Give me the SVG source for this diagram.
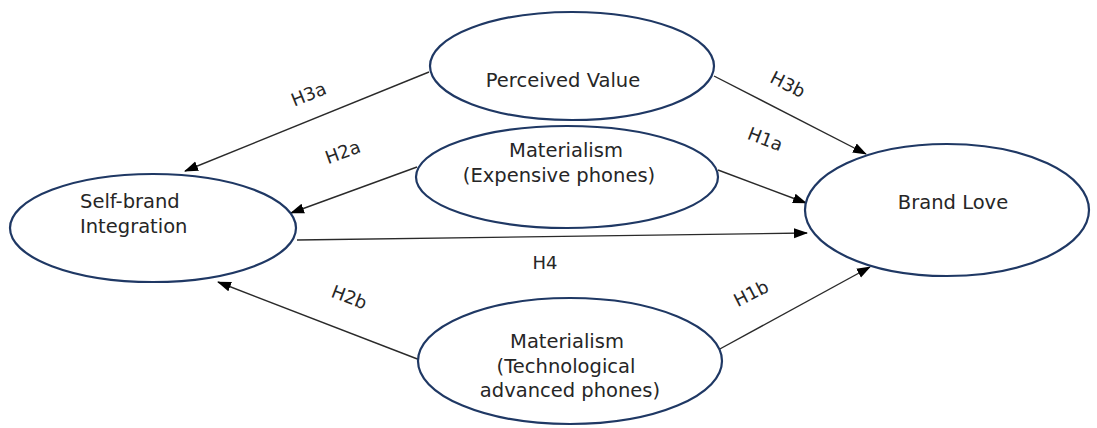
<svg xmlns="http://www.w3.org/2000/svg" width="1097" height="428" viewBox="0 0 1097 428">
<defs>
<style>
.node ellipse{fill:#fff;stroke:#1f3864;stroke-width:2.2}
.t{font-family:"DejaVu Sans","Liberation Sans",sans-serif;font-size:19.5px;fill:#262626}
.lbl{font-family:"DejaVu Sans","Liberation Sans",sans-serif;font-size:18px;fill:#262626;text-anchor:middle}
.c{stroke:#2a2a2a;stroke-width:1.4;fill:none;marker-end:url(#ah)}
</style>
<marker id="ah" markerUnits="userSpaceOnUse" markerWidth="14" markerHeight="12" refX="13" refY="5" orient="auto" viewBox="0 0 14 10">
<path d="M0,0 L14,5 L0,10 Z" fill="#000"/>
</marker>
</defs>
<rect width="1097" height="428" fill="#fff"/>
<g id="connectors">
<line class="c" x1="429" y1="72" x2="185" y2="171"/>
<line class="c" x1="417" y1="167" x2="291" y2="213"/>
<line class="c" x1="297" y1="240" x2="807" y2="233"/>
<line class="c" x1="420" y1="360" x2="218" y2="282"/>
<line class="c" x1="714" y1="76" x2="866" y2="154"/>
<line class="c" x1="718" y1="170" x2="806" y2="203"/>
<line class="c" x1="718" y1="350" x2="870" y2="267"/>
<text class="lbl" transform="translate(311,100) rotate(-22)">H3a</text>
<text class="lbl" transform="translate(345,158) rotate(-20)">H2a</text>
<text class="lbl" transform="translate(785,90) rotate(27)">H3b</text>
<text class="lbl" transform="translate(763,145) rotate(21)">H1a</text>
<text class="lbl" transform="translate(347,303) rotate(21)">H2b</text>
<text class="lbl" transform="translate(754,299) rotate(-27)">H1b</text>
<text class="lbl" x="545" y="269">H4</text>
</g>
<g id="perceived-value" class="node">
<ellipse cx="572" cy="66" rx="142" ry="54"/>
<text class="t" x="563" y="87" text-anchor="middle">Perceived Value</text>
</g>
<g id="materialism-expensive" class="node">
<ellipse cx="567" cy="177" rx="151" ry="51"/>
<text class="t" x="566" y="157" text-anchor="middle">Materialism</text>
<text class="t" x="559" y="182" text-anchor="middle">(Expensive phones)</text>
</g>
<g id="self-brand-integration" class="node">
<ellipse cx="153" cy="228" rx="143" ry="54"/>
<text class="t" x="80" y="208">Self-brand</text>
<text class="t" x="80" y="233">Integration</text>
</g>
<g id="brand-love" class="node">
<ellipse cx="947" cy="210" rx="142" ry="66"/>
<text class="t" x="953" y="209" text-anchor="middle">Brand Love</text>
</g>
<g id="materialism-technological" class="node">
<ellipse cx="570" cy="361" rx="152" ry="63"/>
<text class="t" x="567" y="348" text-anchor="middle">Materialism</text>
<text class="t" x="566" y="373" text-anchor="middle">(Technological</text>
<text class="t" x="570" y="397" text-anchor="middle">advanced phones)</text>
</g>
</svg>
